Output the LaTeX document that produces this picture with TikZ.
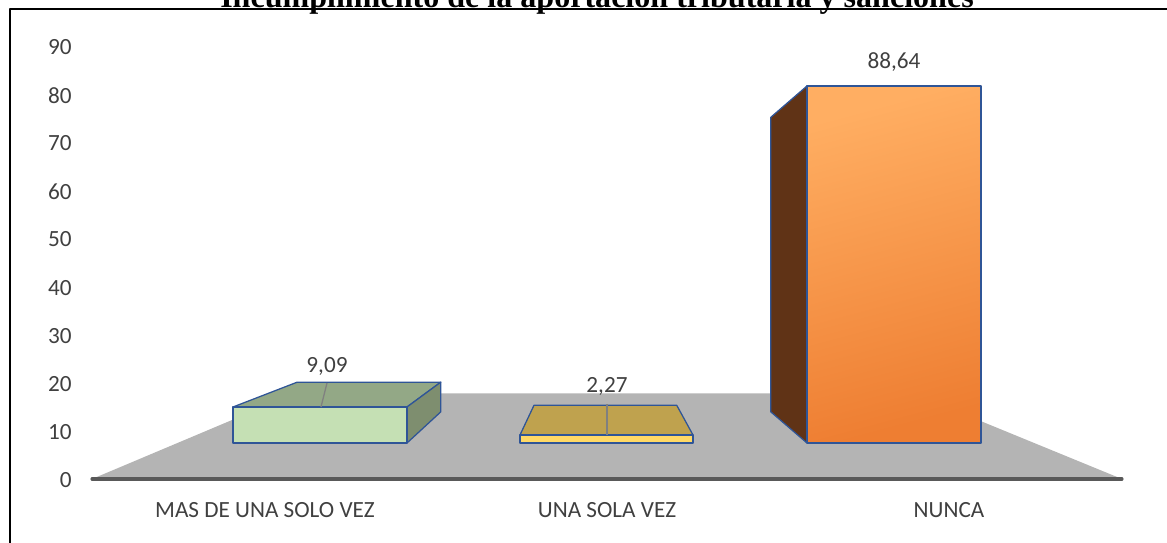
\documentclass[tikz,border=0pt]{standalone}
\usepackage{fontspec}
\setmainfont{Liberation Serif}
\newfontfamily\chartfont{Carlito}
\usetikzlibrary{calc,positioning}
\definecolor{txtgray}{HTML}{404040}
\definecolor{axisgray}{HTML}{595959}
\definecolor{floorgray}{HTML}{B4B4B4}
\definecolor{edgeblue}{HTML}{2F5597}
\definecolor{greenfront}{HTML}{C5E0B4}
\definecolor{greentop}{HTML}{93A886}
\definecolor{greenside}{HTML}{7E8E6F}
\definecolor{goldfront}{HTML}{FFD966}
\definecolor{goldtop}{HTML}{BFA24E}
\definecolor{orangelight}{HTML}{FFAE62}
\definecolor{orangedark}{HTML}{EE7E32}
\definecolor{brownside}{HTML}{603316}

\begin{document}
\begin{tikzpicture}
[x=0.025cm, y=-0.025cm, line join=round, face/.style={draw=edgeblue, line width=0.9pt},
lbl/.style={text=txtgray, font=\chartfont\fontsize{16.5}{19}\selectfont, inner sep=0pt},
leader/.style={draw=gray, line width=0.9pt}]
\useasboundingbox (0,0) rectangle (1167,543);

% Frame and title (cut at the top)
\draw[line width=1.4pt] (10,543) -- (10,9) -- (1167,9);
\node[font=\bfseries\fontsize{22.8}{26}\selectfont, anchor=base, inner sep=0pt] (title) at (597,8) {Incumplimiento de la aportación tributaria y sanciones};

% Floor and axis
\coordinate (vp) at (600,265);
\coordinate (floorL) at (92,479);
\coordinate (floorR) at (1122,479);
\fill[floorgray] (floorL) -- ($(floorL)!0.4!(vp)$) -- ($(floorR)!0.4!(vp)$) -- (floorR) -- cycle;
\draw[axisgray, line width=2.2pt, line cap=round] (floorL) -- (floorR);

% Tick labels
\foreach \v in {0,10,...,90}
  \node[lbl, anchor=east] (tick\v) at (72,{480-4.81*\v}) {\v};

% Bar 1: MAS DE UNA SOLO VEZ
\coordinate (b1tl) at (233,407);
\coordinate (b1tr) at (407,407);
\coordinate (b1br) at (407,443);
\coordinate (b1bl) at (233,443);
\filldraw[face, fill=greentop] (b1tl) -- (b1tr) -- ($(b1tr)!0.175!(vp)$) -- ($(b1tl)!0.175!(vp)$) -- cycle;
\filldraw[face, fill=greenside] (b1tr) -- ($(b1tr)!0.175!(vp)$) -- ($(b1br)!0.175!(vp)$) -- (b1br) -- cycle;
\filldraw[face, fill=greenfront] (b1tl) rectangle (b1br);

% Bar 2: UNA SOLA VEZ
\coordinate (b2tl) at (520,435);
\coordinate (b2tr) at (693,435);
\coordinate (b2br) at (693,443);
\filldraw[face, fill=goldtop] (b2tl) -- (b2tr) -- ($(b2tr)!0.175!(vp)$) -- ($(b2tl)!0.175!(vp)$) -- cycle;
\filldraw[face, fill=goldfront] (b2tl) rectangle (b2br);

% Bar 3: NUNCA
\coordinate (b3tl) at (807,86);
\coordinate (b3br) at (981,443);
\coordinate (b3bl) at (807,443);
\filldraw[face, fill=brownside] (b3tl) -- ($(b3tl)!0.175!(vp)$) -- ($(b3bl)!0.175!(vp)$) -- (b3bl) -- cycle;
\shade[top color=orangelight, bottom color=orangedark, shading angle=15] (b3tl) rectangle (b3br);
\draw[face] (b3tl) rectangle (b3br);

% Data labels
\node[lbl] (val1) at (327,366) {9,09};
\node[lbl] (val2) at (607,386) {2,27};
\node[lbl] (val3) at (894,62) {88,64};
\draw[leader] (327,383) -- (321,407);
\draw[leader] (607,404) -- (607,435);

% Category labels
\node[lbl] (cat1) at (265,510) {MAS DE UNA SOLO VEZ};
\node[lbl] (cat2) at (607,510) {UNA SOLA VEZ};
\node[lbl] (cat3) at (949,510) {NUNCA};
\end{tikzpicture}
\end{document}
